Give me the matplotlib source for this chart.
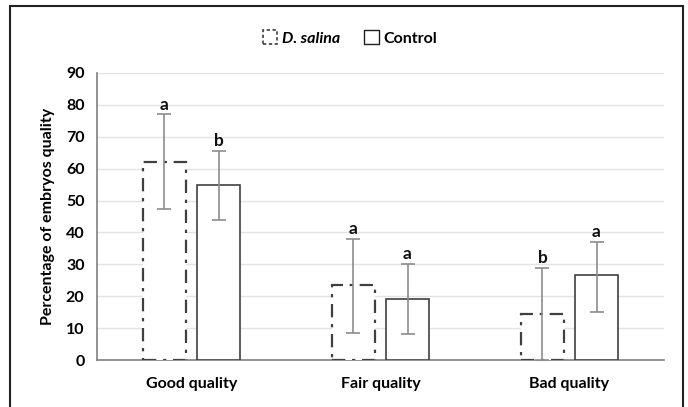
import matplotlib
matplotlib.use("Agg")
import matplotlib.pyplot as plt
from matplotlib.patches import Rectangle, Patch
import numpy as np

plt.rcParams['font.family'] = ['Lato', 'DejaVu Sans']

categories = ["Good quality", "Fair quality", "Bad quality"]
dsalina = [62, 23.5, 14.5]
dsalina_lo = [47.5, 8.5, 0]
dsalina_hi = [77, 38, 29]
dsalina_letters = ["a", "a", "b"]
control = [55, 19, 26.5]
control_lo = [44, 8, 15]
control_hi = [65.5, 30, 37]
control_letters = ["b", "a", "a"]
yticks = [0, 10, 20, 30, 40, 50, 60, 70, 80, 90]

fig = plt.figure(figsize=(6.88, 4.07), dpi=100)
ax = fig.add_axes([97/688, 1-360/407, (664-97)/688, (360-73)/407])

x = np.arange(len(categories))
w = 0.228
off = 0.143
ax.bar(x - off, dsalina, width=w, facecolor='white', edgecolor='#404040',
       linewidth=1.6, linestyle=(0, (6, 3, 1.5, 3)), zorder=3)
ax.bar(x + off, control, width=w, facecolor='white', edgecolor='#404040',
       linewidth=1.2, zorder=3)

d = np.array(dsalina); c = np.array(control)
ax.errorbar(x - off, d, yerr=[d - np.array(dsalina_lo), np.array(dsalina_hi) - d],
            fmt='none', ecolor='#8c8c8c', elinewidth=1.2, capsize=5, capthick=1.2, zorder=4)
ax.errorbar(x + off, c, yerr=[c - np.array(control_lo), np.array(control_hi) - c],
            fmt='none', ecolor='#8c8c8c', elinewidth=1.2, capsize=5, capthick=1.2, zorder=4)

for i in range(len(categories)):
    ax.text(x[i] - off, dsalina_hi[i] + 0.6, dsalina_letters[i], ha='center', va='bottom',
            fontsize=12.5, fontweight='bold', color='#111111')
    ax.text(x[i] + off, control_hi[i] + 0.6, control_letters[i], ha='center', va='bottom',
            fontsize=12.5, fontweight='bold', color='#111111')

ax.set_xlim(-0.5, 2.5)
ax.set_ylim(0, 90)
ax.set_yticks(yticks)
ax.set_yticklabels([str(t) for t in yticks], fontsize=11.5, fontweight='bold')
ax.set_xticks(x)
ax.set_xticklabels(categories, fontsize=11.5, fontweight='bold')
ax.tick_params(axis='both', length=0, pad=9)
ax.tick_params(axis='x', pad=12)
ax.grid(axis='y', color='#e3e3e3', linewidth=1, zorder=0)
ax.set_axisbelow(True)
for s in ['top', 'right']:
    ax.spines[s].set_visible(False)
ax.spines['left'].set_color('#7f7f7f')
ax.spines['bottom'].set_color('#7f7f7f')
ax.spines['left'].set_linewidth(1.2)
ax.spines['bottom'].set_linewidth(1.2)
ax.set_ylabel("Percentage of embryos quality", fontsize=11.5, fontweight='bold', labelpad=8)

handles = [Patch(facecolor='white', edgecolor='#404040', linestyle=(0, (2, 1.5)), linewidth=1.2),
           Patch(facecolor='white', edgecolor='#202020', linewidth=1.0)]
leg = fig.legend(handles, ["D. salina", "Control"], loc='center', bbox_to_anchor=(350/688, 1-38/407),
                 ncol=2, frameon=False, fontsize=11.5, handlelength=0.9, handleheight=0.9,
                 handletextpad=0.3, columnspacing=1.5)
texts = leg.get_texts()
texts[0].set_fontweight('bold'); texts[0].set_fontstyle('italic')
texts[1].set_fontweight('bold')

border = Rectangle((10/688, -0.01), (683-10)/688, 1 - 6/407 + 0.01, transform=fig.transFigure,
                   fill=False, edgecolor='#222222', linewidth=1.5)
fig.add_artist(border)

fig.savefig("out.png", dpi=100)
